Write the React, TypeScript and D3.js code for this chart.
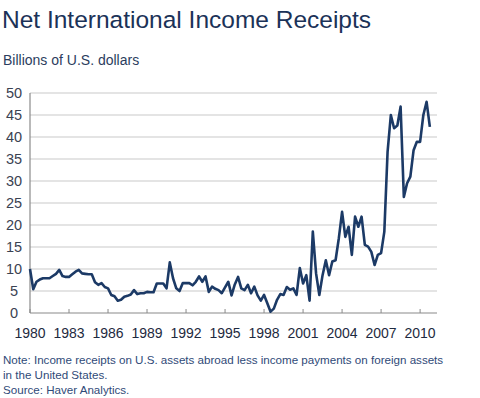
import React, { useEffect, useRef } from "react";
import * as d3 from "d3";

// quarterly values, billions of U.S. dollars
const values1980s = [
    10.0, 5.4, 7.1, 7.6,
    7.9, 7.9, 7.9, 8.4,
    8.9, 9.8, 8.4, 8.2,
    8.2, 8.8, 9.4, 9.8,
    9.0, 8.9, 8.8, 8.8,
    7.0, 6.4, 6.8, 5.9,
    5.6, 4.1, 3.8, 2.8,
    3.0, 3.7, 3.9, 4.2,
    5.2, 4.3, 4.5, 4.5,
    4.8, 4.7, 4.7, 6.7,
];
const values1990s = [
    6.7, 6.7, 5.6, 11.5,
    7.9, 5.6, 5.0, 6.8,
    6.8, 6.8, 6.3, 7.1,
    8.3, 7.1, 8.3, 4.8,
    6.0, 5.5, 5.2, 4.5,
    5.8, 7.1, 4.0, 6.5,
    8.2, 5.6, 5.2, 6.4,
    4.5, 6.0, 4.0, 2.8,
    4.1, 2.2, 0.3, 1.0,
    3.0, 4.3, 4.1, 5.9,
];
const values2000s = [
    5.3, 5.6, 4.1, 10.2,
    6.7, 8.6, 2.8, 18.5,
    9.0, 4.1, 8.6, 12.0,
    8.6, 11.7, 12.0, 17.0,
    23.0, 17.3, 19.6, 13.2,
    21.9, 19.6, 21.9, 15.5,
    15.1, 13.9, 10.9, 13.2,
    13.6, 18.5, 36.7, 45.0,
    42.0, 42.6, 46.9, 26.4,
    29.5, 31.0, 37.0, 38.9,
    38.9, 45.0, 48.0, 42.3,
];
const startYear = 1980;
const yTicks = [0, 5, 10, 15, 20, 25, 30, 35, 40, 45, 50];
const xTicks = [1980, 1983, 1986, 1989, 1992, 1995, 1998, 2001, 2004, 2007, 2010];

const title = "Net International Income Receipts";
const subtitle = "Billions of U.S. dollars";
const notes = [
    "Note: Income receipts on U.S. assets abroad less income payments on foreign assets",
    "in the United States.",
    "Source: Haver Analytics.",
];

const App = () => {
    const svgRef = useRef<SVGSVGElement>(null);

    useEffect(() => {
        const width = 480;
        const height = 398;
        const font = "'Liberation Sans', Arial, sans-serif";

        const series = [...values1980s, ...values1990s, ...values2000s].map((v, i) => ({
            date: startYear + i / 4,
            value: v,
        }));

        const x = d3.scaleLinear().domain([1980, 2011.3]).range([30, 437]);
        const y = d3.scaleLinear().domain([0, 50]).range([313, 93]);

        const svg = d3.select(svgRef.current).attr("width", width).attr("height", height);
        svg.selectAll("*").remove();

        svg.append("rect").attr("width", width).attr("height", height).attr("fill", "#fff");

        svg.append("text")
            .attr("x", 2)
            .attr("y", 28)
            .attr("font-family", font)
            .attr("font-size", 24.5)
            .attr("fill", "#1b3258")
            .text(title);

        svg.append("text")
            .attr("x", 3)
            .attr("y", 65)
            .attr("font-family", font)
            .attr("font-size", 14)
            .attr("fill", "#2b3d5e")
            .text(subtitle);

        // gridlines
        svg.append("g")
            .selectAll("line")
            .data(yTicks.filter((t) => t > 0))
            .enter()
            .append("line")
            .attr("x1", x.range()[0])
            .attr("x2", x.range()[1])
            .attr("y1", (d) => y(d))
            .attr("y2", (d) => y(d))
            .attr("stroke", "#c9c9c9")
            .attr("stroke-width", 1.2);

        // axes
        svg.append("line")
            .attr("x1", x.range()[0])
            .attr("x2", x.range()[0])
            .attr("y1", y(0))
            .attr("y2", y(50))
            .attr("stroke", "#8a8a8a")
            .attr("stroke-width", 1.2);
        svg.append("line")
            .attr("x1", x.range()[0])
            .attr("x2", x.range()[1])
            .attr("y1", y(0))
            .attr("y2", y(0))
            .attr("stroke", "#8a8a8a")
            .attr("stroke-width", 1.2);

        svg.append("g")
            .selectAll("line")
            .data(xTicks)
            .enter()
            .append("line")
            .attr("x1", (d) => x(d))
            .attr("x2", (d) => x(d))
            .attr("y1", y(0))
            .attr("y2", y(0) - 4)
            .attr("stroke", "#8a8a8a")
            .attr("stroke-width", 1);

        svg.append("g")
            .selectAll("text")
            .data(yTicks)
            .enter()
            .append("text")
            .attr("x", 14)
            .attr("y", (d) => y(d) + 5)
            .attr("text-anchor", "middle")
            .attr("font-family", font)
            .attr("font-size", 14.5)
            .attr("fill", "#3a4252")
            .text((d) => d);

        svg.append("g")
            .selectAll("text")
            .data(xTicks)
            .enter()
            .append("text")
            .attr("x", (d) => x(d))
            .attr("y", 338)
            .attr("text-anchor", "middle")
            .attr("font-family", font)
            .attr("font-size", 14)
            .attr("fill", "#1e2a40")
            .text((d) => d);

        const line = d3
            .line<{ date: number; value: number }>()
            .x((d) => x(d.date))
            .y((d) => y(d.value));

        svg.append("path")
            .datum(series)
            .attr("d", line)
            .attr("fill", "none")
            .attr("stroke", "#1c3a66")
            .attr("stroke-width", 2.6)
            .attr("stroke-linejoin", "round");

        svg.append("g")
            .selectAll("text")
            .data(notes)
            .enter()
            .append("text")
            .attr("x", 3)
            .attr("y", (_, i) => 364 + i * 15)
            .attr("font-family", font)
            .attr("font-size", 11.6)
            .attr("fill", "#2f4a78")
            .text((d) => d);
    }, []);

    return (
        <div style={{ position: "absolute", left: 0, top: 0 }}>
            <svg ref={svgRef} style={{ display: "block" }}></svg>
        </div>
    );
};

export default App;
